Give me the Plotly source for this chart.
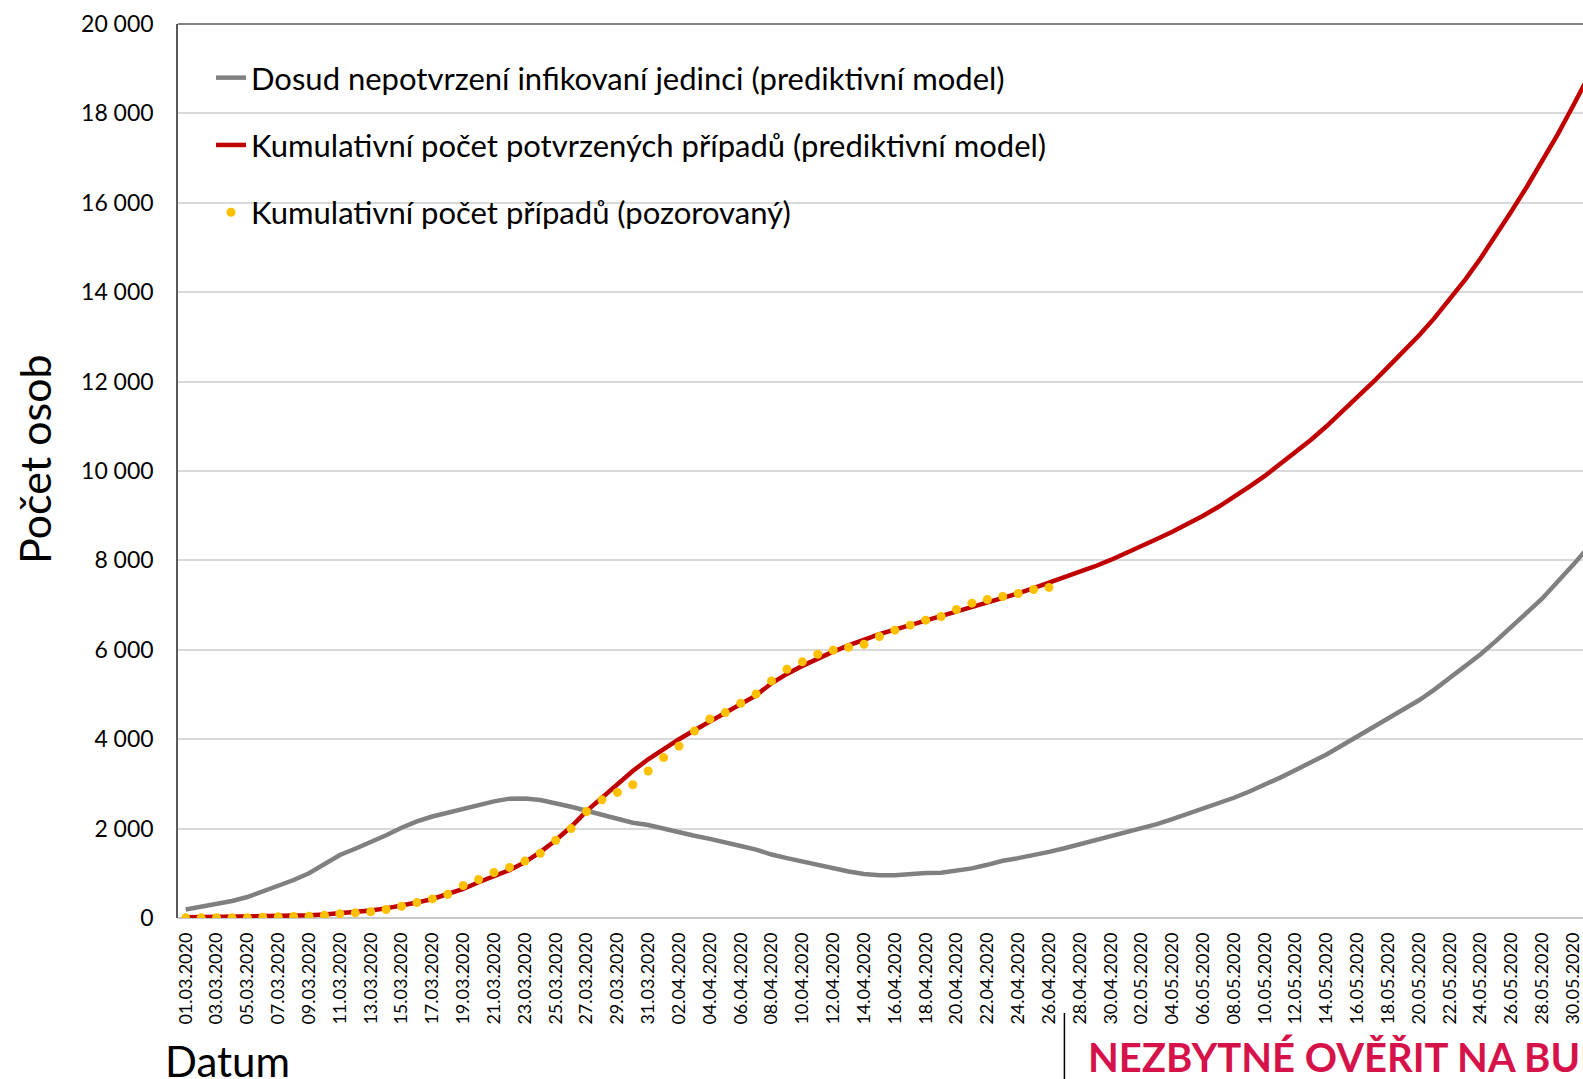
import pandas as pd
import plotly.graph_objects as go

# daily categories 01.03.2020 - 31.05.2020
dates = pd.date_range("2020-03-01", "2020-05-31", freq="D")

# Dosud nepotvrzení infikovaní jedinci (prediktivní model)
unconfirmed = [
    190, 250, 310, 380, 470, 600, 710, 850, 1000, 1200,
    1410, 1550, 1690, 1850, 2020, 2160, 2270, 2360, 2450, 2540,
    2610, 2670, 2675, 2640, 2570, 2490, 2400, 2310, 2210, 2130,
    2080, 2000, 1900, 1840, 1770, 1700, 1610, 1530, 1420, 1340,
    1260, 1180, 1110, 1040, 985, 955, 955, 985, 1005, 1010,
    1060, 1110, 1190, 1280, 1340, 1400, 1480, 1560, 1650, 1740,
    1830, 1910, 1990, 2100, 2210, 2330, 2440, 2560, 2690, 2830,
    2980, 3140, 3310, 3480, 3660, 3860, 4060, 4260, 4460, 4650,
    4870, 5110, 5370, 5640, 5900, 6200, 6500, 6830, 7150, 7520,
    7900, 8300,
]

# Kumulativní počet potvrzených případů (prediktivní model)
confirmed_model = [
    15, 18, 20, 25, 30, 35, 38, 45, 60, 80,
    105, 135, 170, 215, 275, 345, 425, 525, 650, 800,
    935, 1070, 1250, 1475, 1740, 2040, 2390, 2690, 3010, 3290,
    3550, 3790, 4000, 4200, 4390, 4580, 4775, 4980, 5250, 5460,
    5640, 5810, 5960, 6100, 6230, 6350, 6450, 6550, 6660, 6760,
    6860, 6950, 7050, 7150, 7260, 7380, 7500, 7620, 7750, 7870,
    8010, 8160, 8320, 8480, 8640, 8810, 9000, 9200, 9420, 9650,
    9890, 10150, 10420, 10700, 11000, 11320, 11640, 11980, 12330, 12680,
    13030, 13420, 13840, 14280, 14760, 15270, 15810, 16360, 16930, 17530,
    18170, 18830,
]

# Kumulativní počet případů (pozorovaný), 01.03. - 26.04.
observed = [
    3, 3, 5, 5, 8, 19, 26, 32, 38, 63,
    94, 116, 141, 189, 262, 345, 427, 532, 727, 861,
    1019, 1131, 1273, 1446, 1738, 2000, 2382, 2644, 2809, 2981,
    3288, 3588, 3848, 4184, 4452, 4596, 4804, 5012, 5304, 5566,
    5730, 5901, 5991, 6058, 6125, 6298, 6439, 6551, 6663, 6746,
    6902, 7043, 7126, 7193, 7260, 7350, 7395,
]

names = [
    "Dosud nepotvrzení infikovaní jedinci (prediktivní model)",
    "Kumulativní počet potvrzených případů (prediktivní model)",
    "Kumulativní počet případů (pozorovaný)",
]
y_title = "Počet osob"
x_title = "Datum"
warning = "NEZBYTNÉ OVĚŘIT NA BUDOUCÍCH DATECH"
split_date = pd.Timestamp("2020-04-27")

W, H = 1583, 1079
L, R, T, B = 178, 0, 24, 161
PW, PH = W - L - R, H - T - B
FONT = "Lato, 'Open Sans', sans-serif"

x_start = dates[0] - pd.Timedelta(hours=12)
x_end = dates[0] + pd.Timedelta(days=90.64)


def px_x(x):
    return (x - L) / PW


def px_y(y):
    return (T + PH - y) / PH


fig = go.Figure()
fig.add_trace(go.Scatter(
    x=dates, y=unconfirmed, mode="lines", name=names[0], legendgroup="a",
    line=dict(color="#808080", width=4.5),
))
fig.add_trace(go.Scatter(
    x=dates, y=confirmed_model, mode="lines", name=names[1], legendgroup="b",
    line=dict(color="#C00000", width=4.5),
))
fig.add_trace(go.Scatter(
    x=dates[:len(observed)], y=observed, mode="markers", name=names[2], legendgroup="c",
    marker=dict(color="#FFC000", size=9),
))

split_frac = (split_date - x_start) / (x_end - x_start)

fig.update_layout(
    width=W, height=H,
    margin=dict(l=L, r=R, t=T, b=B, autoexpand=False),
    paper_bgcolor="white", plot_bgcolor="white",
    font=dict(family=FONT, color="black"),
    separators=", ",
    showlegend=True,
    legend=dict(
        x=px_x(211), y=px_y(51), xanchor="left", yanchor="top",
        font=dict(size=31, family=FONT, color="black"),
        bgcolor="rgba(0,0,0,0)", tracegroupgap=24,
    ),
    shapes=[
        dict(type="line", xref="paper", yref="paper", x0=0, x1=1, y0=1, y1=1,
             line=dict(color="#595959", width=1.5)),
        dict(type="line", xref="paper", yref="paper", x0=split_frac, x1=split_frac,
             y0=px_y(1013), y1=px_y(1079), line=dict(color="black", width=1.5)),
    ],
    annotations=[
        dict(text=y_title, textangle=-90, xref="paper", yref="paper",
             x=px_x(34), y=px_y(459), xanchor="center", yanchor="middle",
             showarrow=False, font=dict(size=43, family=FONT, color="black")),
        dict(text=x_title, xref="paper", yref="paper",
             x=px_x(163), y=px_y(1061), xanchor="left", yanchor="middle",
             showarrow=False, font=dict(size=42, family=FONT, color="black")),
        dict(text="<b>" + warning + "</b>", xref="paper", yref="paper",
             x=px_x(1086), y=px_y(1057), xanchor="left", yanchor="middle",
             showarrow=False, font=dict(size=40, family=FONT, color="#D6124A")),
    ],
)
fig.update_xaxes(
    type="date", range=[x_start, x_end],
    tick0=dates[0], dtick=2 * 86400000, tickformat="%d.%m.%Y",
    tickangle=-90, tickfont=dict(size=18, family=FONT, color="black"),
    showgrid=False, showline=False, zeroline=False,
    ticks="", ticklabelstandoff=10, automargin=False,
)
fig.update_yaxes(
    range=[0, 20000], dtick=2000, tickformat=",d",
    tickfont=dict(size=23, family=FONT, color="black"),
    showgrid=True, gridcolor="#D9D9D9", gridwidth=1.5,
    zeroline=True, zerolinecolor="#C8C8C8", zerolinewidth=2,
    showline=True, linecolor="#595959", linewidth=1.5,
    ticks="", ticklabelstandoff=18, automargin=False,
)

fig.write_html(
    "out.html",
    config={"displayModeBar": False},
    post_script="document.body.style.margin = '0'; document.body.style.overflow = 'hidden';",
)
